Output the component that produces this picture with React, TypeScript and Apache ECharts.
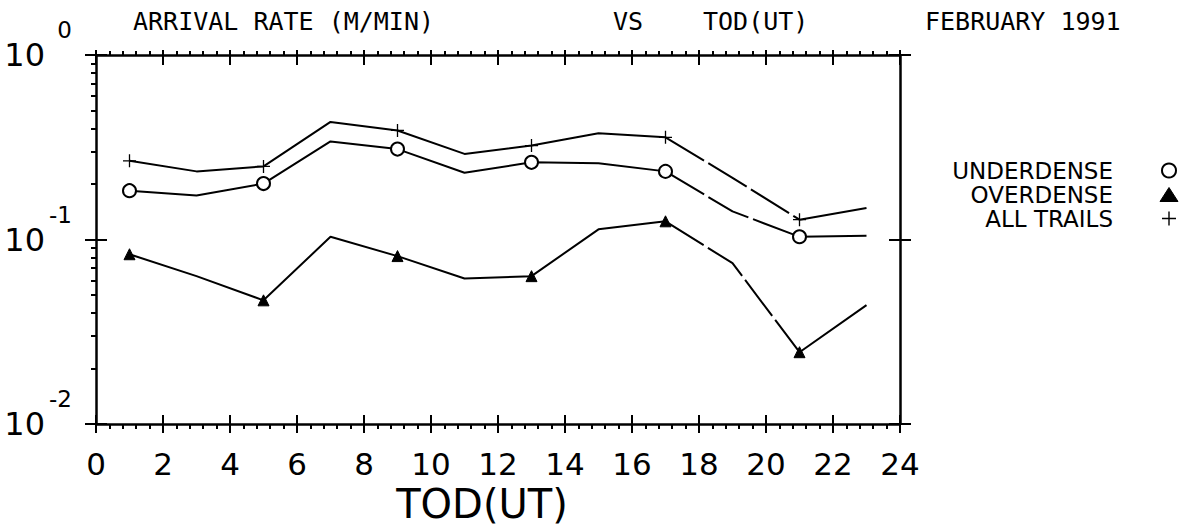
import React, { useEffect, useRef } from "react";
import * as echarts from "echarts";

const hours = [1, 3, 5, 7, 9, 11, 13, 15, 17, 19, 21, 23];
const markerHours = [1, 5, 9, 13, 17, 21];
const dashedHours = [17, 19, 21];
const underdense = [0.184, 0.173, 0.201, 0.34, 0.309, 0.23, 0.262, 0.259, 0.234, 0.142, 0.1035, 0.1047];
const overdense = [0.0832, 0.0633, 0.0468, 0.1035, 0.0813, 0.0615, 0.0633, 0.1135, 0.1255, 0.0744, 0.0245, 0.0441];
const allTrails = [0.267, 0.234, 0.249, 0.434, 0.39, 0.291, 0.323, 0.377, 0.358, 0.216, 0.128, 0.148];
const xTicks = [0, 2, 4, 6, 8, 10, 12, 14, 16, 18, 20, 22, 24];
const yMinorTicks = [0.02, 0.03, 0.04, 0.05, 0.06, 0.07, 0.08, 0.09, 0.2, 0.3, 0.4, 0.5, 0.6, 0.7, 0.8, 0.9];

const FONT = "DejaVu Sans";
const MONO = "DejaVu Sans Mono";
const PLUS = "path://M0,9h20v2h-20z M9,0h2v20h-2z";

export default function App() {
  const ref = useRef<HTMLDivElement>(null);
  useEffect(() => {
    if (!ref.current) return;
    const chart = echarts.init(ref.current, null, { renderer: "svg" });
    const black = "#000";
    const solid = (vals: number[]) =>
      hours.map((h, i) => [h, dashedHours.indexOf(h) > 0 && dashedHours.indexOf(h) < dashedHours.length - 1 ? null : vals[i]]);
    const dashed = (vals: number[]) => hours.map((h, i) => [h, vals[i]]).filter((p) => dashedHours.indexOf(p[0] as number) >= 0);
    const symFn = (sym: string) => (val: any) => (markerHours.indexOf(val[0]) >= 0 ? sym : "none");

    const mkSeries = (name: string, vals: number[], sym: string, size: number, itemStyle: any) => [
      {
        name,
        type: "line",
        data: solid(vals),
        connectNulls: false,
        symbol: symFn(sym),
        symbolSize: size,
        showSymbol: true,
        itemStyle,
        lineStyle: { color: black, width: 2 },
        z: 3,
      },
      {
        name: name + "_dash",
        type: "line",
        data: dashed(vals),
        symbol: "none",
        lineStyle: { color: black, width: 2, type: [45, 5] },
        z: 2,
      },
    ];

    const baseX = { type: "value", min: 0, max: 24, interval: 2, splitLine: { show: false } };
    const baseY = { type: "log", logBase: 10, min: 0.01, max: 1, splitLine: { show: false } };
    const tickStyle = { color: black, width: 2 };
    const titleStyle = { fontFamily: MONO, fontSize: 25, fontWeight: "normal", color: black };

    chart.setOption({
      animation: false,
      backgroundColor: "#fff",
      title: [
        { text: "ARRIVAL RATE (M/MIN)", left: 133, top: 9, padding: 0, textStyle: titleStyle },
        { text: "VS", left: 613, top: 9, padding: 0, textStyle: titleStyle },
        { text: "TOD(UT)", left: 703, top: 9, padding: 0, textStyle: titleStyle },
        { text: "FEBRUARY 1991", left: 925, top: 9, padding: 0, textStyle: titleStyle },
      ],
      legend: {
        orient: "vertical",
        left: 932,
        top: 159,
        padding: 0,
        itemGap: 1,
        itemWidth: 18,
        itemHeight: 14,
        align: "right",
        selectedMode: false,
        formatter: (name: string) => `{n|${name}}`,
        textStyle: {
          color: black,
          fontFamily: FONT,
          fontSize: 23,
          rich: { n: { fontFamily: FONT, fontSize: 23, lineHeight: 21, width: 181, align: "right", padding: [0, 42, 0, 0], color: black } },
        },
        data: [
          { name: "UNDERDENSE", icon: "circle", itemStyle: { color: "#fff", borderColor: black, borderWidth: 2 } },
          { name: "OVERDENSE", icon: "triangle", itemStyle: { color: black, borderColor: black, borderWidth: 1 } },
          { name: "ALL TRAILS", icon: PLUS, itemStyle: { color: black, borderWidth: 0 } },
        ],
      },
      grid: { left: 96, top: 55, width: 804, height: 381, containLabel: false },
      xAxis: [
        {
          ...baseX,
          position: "bottom",
          axisLine: { onZero: false, lineStyle: { color: black, width: 2.5 } },
          axisTick: { length: 9, lineStyle: tickStyle },
          minorTick: { show: true, splitNumber: 5, length: 5, lineStyle: tickStyle },
          axisLabel: {
            margin: 24,
            fontFamily: FONT,
            fontSize: 31,
            color: black,
            formatter: (v: number) => (xTicks.indexOf(v) >= 0 ? String(v) : ""),
          },
          name: "TOD(UT)",
          nameLocation: "middle",
          nameGap: 60,
          nameTextStyle: { fontFamily: FONT, fontSize: 40, color: black, padding: [0, 32, 0, 0] },
        },
        {
          ...baseX,
          position: "bottom",
          axisLine: { show: false, onZero: false },
          axisTick: { inside: true, length: 9, lineStyle: tickStyle },
          axisLabel: { show: false },
        },
        {
          ...baseX,
          position: "top",
          axisLine: { onZero: false, lineStyle: { color: black, width: 2.5 } },
          axisTick: { length: 5, lineStyle: tickStyle },
          minorTick: { show: true, splitNumber: 5, length: 4, lineStyle: tickStyle },
          axisLabel: { show: false },
        },
        {
          ...baseX,
          position: "top",
          axisLine: { show: false, onZero: false },
          axisTick: { inside: true, length: 10, lineStyle: tickStyle },
          axisLabel: { show: false },
        },
      ],
      yAxis: [
        {
          ...baseY,
          position: "left",
          axisLine: { onZero: false, lineStyle: { color: black, width: 2.5 } },
          axisTick: { length: 11, lineStyle: tickStyle },
          axisLabel: { margin: 51, fontFamily: FONT, fontSize: 32, color: black, formatter: () => "10" },
        },
        {
          ...baseY,
          position: "left",
          axisLine: { show: false, onZero: false },
          axisTick: { inside: true, length: 11, lineStyle: tickStyle },
          axisLabel: {
            margin: 24,
            fontFamily: FONT,
            fontSize: 23,
            color: black,
            verticalAlign: "bottom",
            lineHeight: 50,
            formatter: (v: number) => String(Math.round(Math.log10(v))),
          },
        },
        {
          ...baseY,
          position: "left",
          axisLine: { show: false, onZero: false },
          axisTick: { length: 5, lineStyle: tickStyle, customValues: yMinorTicks },
          axisLabel: { show: false },
        },
        {
          ...baseY,
          position: "right",
          axisLine: { onZero: false, lineStyle: { color: black, width: 2.5 } },
          axisTick: { length: 11, lineStyle: tickStyle },
          axisLabel: { show: false },
        },
        {
          ...baseY,
          position: "right",
          axisLine: { show: false, onZero: false },
          axisTick: { inside: true, length: 11, lineStyle: tickStyle },
          axisLabel: { show: false },
        },
      ],
      series: [
        ...mkSeries("UNDERDENSE", underdense, "circle", 13, { color: "#fff", borderColor: black, borderWidth: 2 }),
        ...mkSeries("OVERDENSE", overdense, "triangle", 11, { color: black, borderColor: black, borderWidth: 1 }),
        ...mkSeries("ALL TRAILS", allTrails, PLUS, 13, { color: black, borderWidth: 0 }),
      ],
    });
    return () => chart.dispose();
  }, []);
  return <div ref={ref} style={{ position: "absolute", left: 0, top: 0, width: 1184, height: 529 }} />;
}
